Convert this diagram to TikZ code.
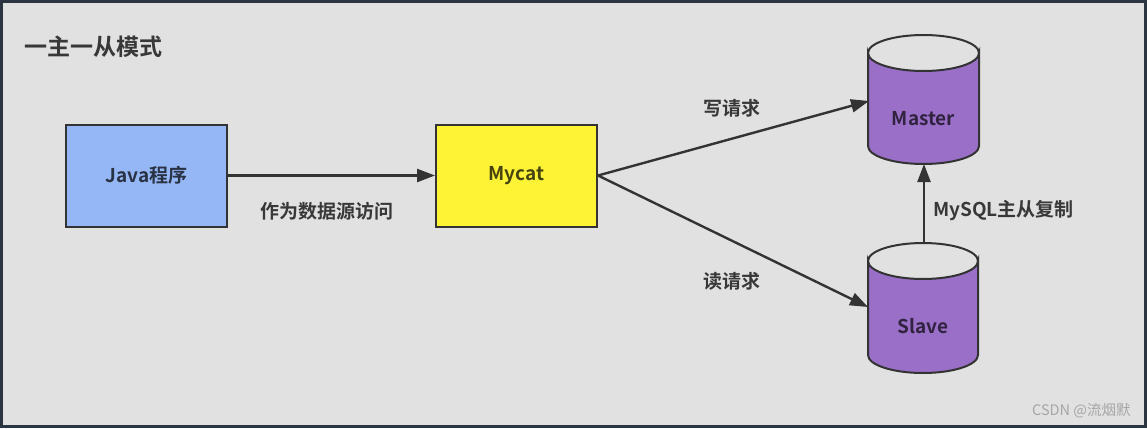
\documentclass[tikz,border=0pt]{standalone}
\usepackage{fontspec}
\setmainfont{Noto Sans CJK SC}
\newfontfamily\cjkbold{Noto Sans CJK SC Bold}
\newfontfamily\cjkreg{Noto Sans CJK SC}
\usetikzlibrary{arrows.meta}
\definecolor{bgc}{HTML}{E1E1E1}
\definecolor{outc}{HTML}{2B3541}
\definecolor{javac}{HTML}{95B7F6}
\definecolor{mycatc}{HTML}{FFF335}
\definecolor{dbc}{HTML}{9A6FC8}
\definecolor{edgec}{HTML}{333333}
\definecolor{wmc}{HTML}{A6A6A6}
\tikzset{
  boxnode/.style={draw=edgec, line width=2pt, minimum width=161pt, minimum height=102pt, inner sep=0pt,
    font=\cjkbold\fontsize{19}{21}\selectfont, text=black, text opacity=0.72},
  dbshape/.style={draw=edgec, line width=2pt, fill=dbc},
  dblabel/.style={font=\cjkbold\fontsize{19}{21}\selectfont, text=black, text opacity=0.68, inner sep=0pt},
  lbl/.style={font=\cjkbold\fontsize{19}{21}\selectfont, text=black, text opacity=0.75, inner sep=0pt},
  arr/.style={draw=edgec, line width=2.4pt, -{Triangle[length=18pt,width=13pt]}},
}
\begin{document}
\begin{tikzpicture}[x=1pt,y=-1pt]
\useasboundingbox (0,0) rectangle (1147,428);
\fill[outc] (0,0) rectangle (1147,428);
\fill[bgc] (3,3) rectangle (1144,425);
\node[lbl, font=\cjkbold\fontsize{23}{25}\selectfont, anchor=west] (title) at (24,47) {一主一从模式};
\node[boxnode, fill=javac] (java) at (146.5,175.5) {Java程序};
\node[boxnode, fill=mycatc] (mycat) at (516.5,175.5) {Mycat};
% Master cylinder
\path[dbshape] (868,53) -- (868,146) arc[start angle=180,end angle=360,x radius=55.5pt,y radius=18pt] -- (979,53) arc[start angle=0,end angle=-180,x radius=55.5pt,y radius=18pt] -- cycle;
\draw[edgec, line width=2pt] (868,53) arc[start angle=180,end angle=360,x radius=55.5pt,y radius=-18pt];
\node[dblabel] (master) at (923.5,119) {Master};
% Slave cylinder
\path[dbshape] (868,261) -- (868,355) arc[start angle=180,end angle=360,x radius=55pt,y radius=18pt] -- (978,261) arc[start angle=0,end angle=-180,x radius=55pt,y radius=18pt] -- cycle;
\draw[edgec, line width=2pt] (868,261) arc[start angle=180,end angle=360,x radius=55pt,y radius=-18pt];
\node[dblabel] (slave) at (923,326) {Slave};
\coordinate (mleft) at (869,101);
\coordinate (sleft) at (868,307);
\coordinate (mbot) at (924,164);
\coordinate (stop) at (924,243);
\draw[arr] (java.east) -- (mycat.west);
\draw[arr] (mycat.east) -- (mleft);
\draw[arr] (mycat.east) -- (sleft);
\draw[arr] (stop) -- (mbot);
\node[lbl, anchor=west] (l1) at (260,211) {作为数据源访问};
\node[lbl, anchor=west] (l2) at (703,108) {写请求};
\node[lbl, anchor=west] (l3) at (703,281) {读请求};
\node[lbl, anchor=west] (l4) at (933,211) {MySQL主从复制};
\node[font=\cjkreg\fontsize{14.5}{16}\selectfont, text=wmc, anchor=west, inner sep=0pt] (wm) at (1032,411) {CSDN @流烟默};
\end{tikzpicture}
\end{document}
